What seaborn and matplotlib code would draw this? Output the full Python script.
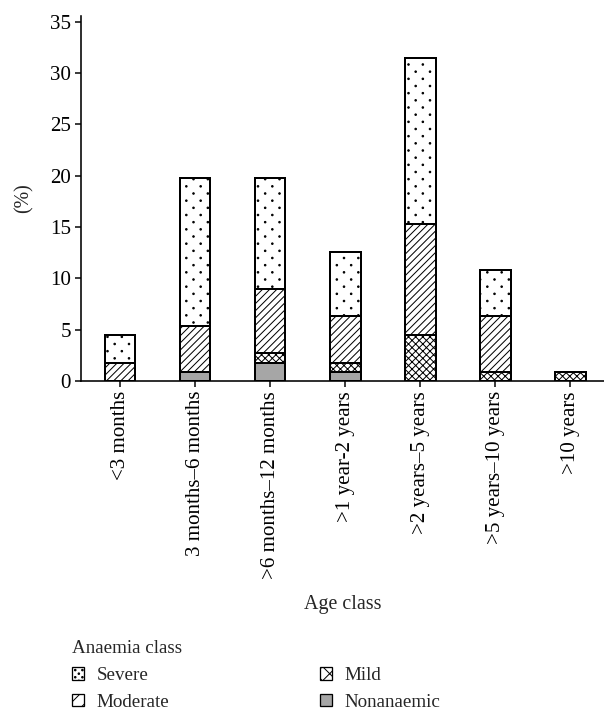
import matplotlib
matplotlib.use("Agg")
import matplotlib.pyplot as plt
import matplotlib.patches as mpatches
import matplotlib.hatch as mhatch
from matplotlib.path import Path
import numpy as np
import pandas as pd
import seaborn as sns

# Age classes and share (%) of children in each anaemia class
age_classes = ["<3 months", "3 months\u20136 months", ">6 months\u201312 months",
               ">1 year-2 years", ">2 years\u20135 years", ">5 years\u201310 years",
               ">10 years"]
nonanaemic = [0.0, 0.9, 1.8, 0.9, 0.0, 0.0, 0.0]
mild       = [0.0, 0.0, 0.9, 0.9, 4.5, 0.9, 0.9]
moderate   = [1.8, 4.5, 6.3, 4.5, 10.8, 5.4, 0.0]
severe     = [2.7, 14.4, 10.8, 6.3, 16.2, 4.5, 0.0]
y_ticks = [0, 5, 10, 15, 20, 25, 30, 35]

# figure is 604 x 713 px; the dpi sets the size of the hatch cells
DPI = 86
W, H = 604, 713


def px(v):
    """Convert a size in pixels to points at the figure dpi."""
    return v * 72 / DPI


class StaggeredDots(mhatch.HatchPatternBase):
    """'.' hatch: small dots on a diagonal lattice (rows twice as dense as columns)."""
    radius = 0.009

    def __init__(self, hatch, density):
        self.ncols = hatch.count('.') * density
        self.circle = Path.unit_circle()
        if self.ncols:
            nrows = 2 * self.ncols + 1
            n_even = (nrows + 1) // 2
            n_odd = nrows // 2
            self.num_shapes = n_even * (self.ncols + 1) + n_odd * self.ncols
            self.num_vertices = self.num_shapes * len(self.circle.vertices)
        else:
            self.num_shapes = 0
            self.num_vertices = 0

    def set_vertices_and_codes(self, vertices, codes):
        n = self.ncols
        shape = self.circle.vertices * self.radius
        vparts, cparts = [], []
        for row in range(2 * n + 1):
            if row % 2 == 0:
                cols = np.linspace(0, 1, n + 1)
            else:
                cols = np.linspace(0.5 / n, 1 - 0.5 / n, n)
            for c in cols:
                vparts.append(shape + [c, row / (2 * n)])
                cparts.append(self.circle.codes)
        np.concatenate(vparts, out=vertices)
        np.concatenate(cparts, out=codes)


mhatch._hatch_types[mhatch._hatch_types.index(mhatch.SmallFilledCircles)] = StaggeredDots

sns.set_theme(style="ticks")
plt.rcParams["font.family"] = ["Liberation Serif", "DejaVu Serif"]
plt.rcParams["hatch.linewidth"] = px(1.0)
plt.rcParams["hatch.color"] = "black"

df = pd.DataFrame({"age": age_classes, "Nonanaemic": nonanaemic, "Mild": mild,
                   "Moderate": moderate, "Severe": severe})
# cumulative tops, drawn from tallest to shortest so each layer covers the one above
df["top_non"] = df["Nonanaemic"]
df["top_mild"] = df["top_non"] + df["Mild"]
df["top_mod"] = df["top_mild"] + df["Moderate"]
df["top_sev"] = df["top_mod"] + df["Severe"]

fig = plt.figure(figsize=(W / DPI, H / DPI), dpi=DPI)
ax = fig.add_axes([81 / W, 1 - 381 / H, 1 - 81 / W, (381 - 16) / H])

layers = [("top_sev", "white", ".", "Severe"),
          ("top_mod", "white", "////", "Moderate"),
          ("top_mild", "white", "xxxx", "Mild"),
          ("top_non", "#a6a6a6", "", "Nonanaemic")]
for col, fc, hatch, lab in layers:
    sns.barplot(data=df, x="age", y=col, ax=ax, color=fc, width=0.41,
                edgecolor="black", linewidth=px(2.0), hatch=hatch, saturation=1,
                errorbar=None)

ax.set_xlim(-0.52, 6.45)
ax.set_ylim(0, 35.55)
ax.set_yticks(y_ticks)
ax.set_yticklabels([str(t) for t in y_ticks], fontsize=px(21))
ax.set_xticks(range(len(age_classes)))
ax.set_xticklabels(age_classes, rotation=90, fontsize=px(21))
ax.set_ylabel("(%)", fontsize=px(20), labelpad=px(16))
ax.set_xlabel("Age class", fontsize=px(20), labelpad=px(16))
sns.despine(ax=ax)
for s in ("left", "bottom"):
    ax.spines[s].set_linewidth(px(1.6))
    ax.spines[s].set_color("black")
ax.tick_params(axis="both", length=px(6), width=px(1.5), pad=px(4),
               color="black", labelcolor="black")

# legend swatches use their own hatch density so the pattern reads in a small box
legend_hatch = {"Severe": "..", "Moderate": "//", "Mild": "xx", "Nonanaemic": ""}
handles = [mpatches.Patch(facecolor=fc, edgecolor="black", hatch=legend_hatch[lab],
                          label=lab, linewidth=px(1.3))
           for _, fc, _, lab in layers]
leg = fig.legend(handles=handles, ncol=2, title="Anaemia class", loc="upper left",
                 bbox_to_anchor=(72 / W, 1 - 640 / H), frameon=False,
                 fontsize=px(19), title_fontsize=px(19), borderpad=0,
                 borderaxespad=0, handlelength=0.65, handleheight=0.65,
                 handletextpad=0.65, columnspacing=7.9, labelspacing=0.52,
                 alignment="left")

fig.savefig("out.png", dpi=DPI)
